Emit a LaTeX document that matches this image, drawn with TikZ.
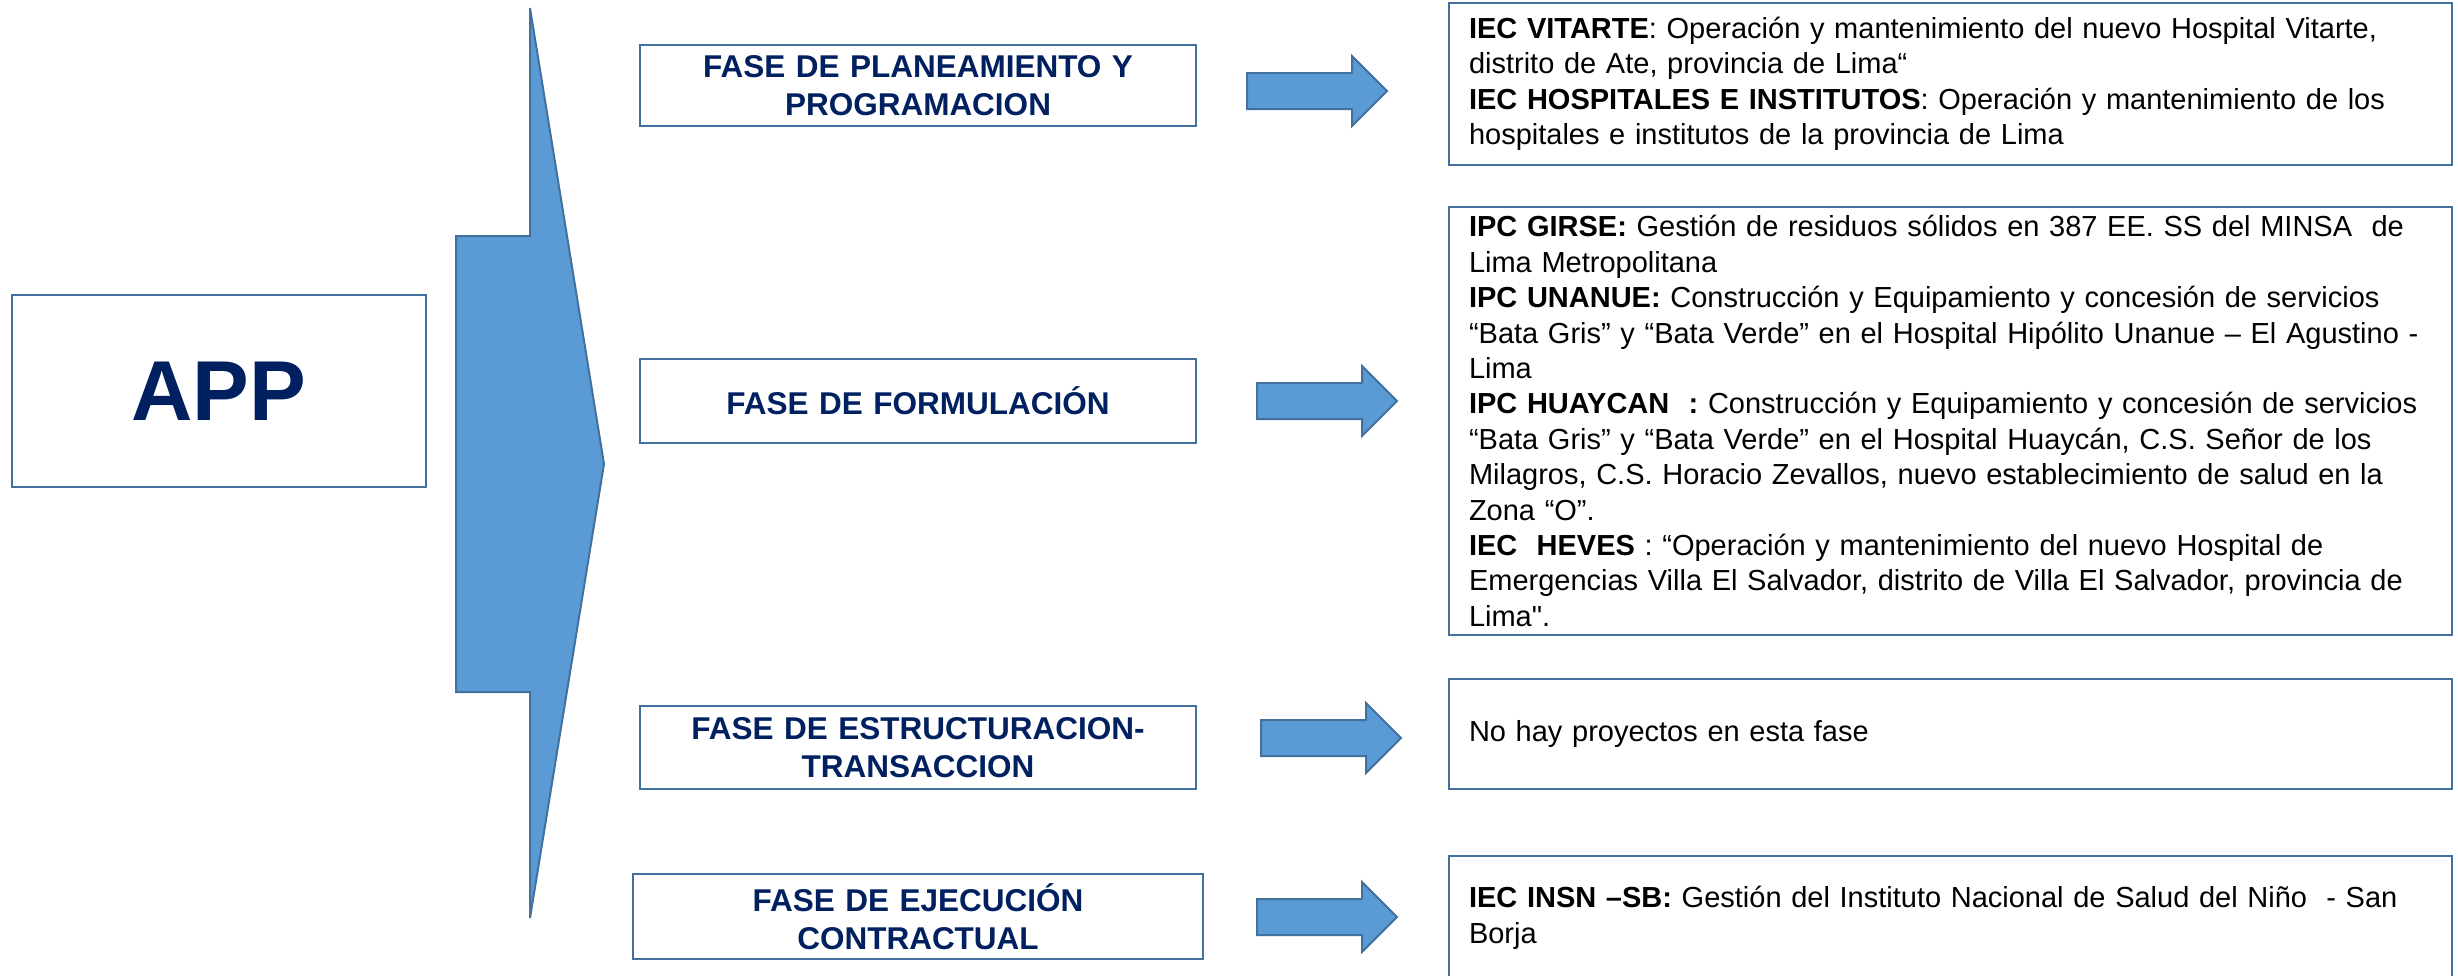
\documentclass[tikz,border=0pt]{standalone}
\usepackage{fontspec}
\setmainfont{Liberation Sans}[Ligatures=TeXOff]
\definecolor{appnavy}{HTML}{002060}
\definecolor{appblue}{HTML}{5B9BD5}
\definecolor{appline}{HTML}{41719C}
\begin{document}
\begin{tikzpicture}[x=1pt,y=-1pt]{
    \def\lw{2.5pt}
    \newcounter{nb}
    \tikzstyle{marco}=[draw=appline, line width=\lw, fill=white, inner ysep=0pt]
    \tikzstyle{fase}=[marco, text=appnavy, align=center, text width=516pt, minimum width=556pt, font=\fontsize{31.5}{38}\selectfont\bfseries]
    \tikzstyle{proyecto}=[marco, align=left, text width=963pt, inner xsep=20pt, font=\fontsize{29}{35.4}\selectfont]
    \tikzstyle{blk}=[draw=appline, fill=appblue, line width=2pt]

    \fill[white] (0,0) rectangle (2458,975);
    \useasboundingbox (0,0) rectangle (2458,975);

    \stepcounter{nb}\node[marco, minimum width=414pt, minimum height=192pt, text=appnavy, font=\fontsize{85}{90}\selectfont\bfseries] (\arabic{nb}) at (219,391) {APP};

    \stepcounter{nb}\node[fase, minimum height=81pt] (\arabic{nb}) at (918,85.5) {FASE DE PLANEAMIENTO Y\\PROGRAMACION};
    \stepcounter{nb}\node[fase, minimum height=84pt] (\arabic{nb}) at (918,401) {FASE DE FORMULACIÓN};
    \stepcounter{nb}\node[fase, minimum height=83pt] (\arabic{nb}) at (918,747.5) {FASE DE ESTRUCTURACION-\\TRANSACCION};
    \stepcounter{nb}\node[fase, minimum height=85pt, minimum width=570pt] (\arabic{nb}) at (918,916.5) {FASE DE EJECUCIÓN\\CONTRACTUAL};

    \stepcounter{nb}\node[proyecto, minimum height=162pt] (\arabic{nb}) at (1950.5,84) {\textbf{IEC VITARTE}: Operación y mantenimiento del nuevo Hospital Vitarte,\\distrito de Ate, provincia de Lima“\\\textbf{IEC HOSPITALES E INSTITUTOS}: Operación y mantenimiento de los\\hospitales e institutos de la provincia de Lima};
    \stepcounter{nb}\node[proyecto, minimum height=428pt] (\arabic{nb}) at (1950.5,421) {\textbf{IPC GIRSE:} Gestión de residuos sólidos en 387 EE. SS del MINSA\ \ de\\Lima Metropolitana\\\textbf{IPC UNANUE:} Construcción y Equipamiento y concesión de servicios\\“Bata Gris” y “Bata Verde” en el Hospital Hipólito Unanue – El Agustino -\\Lima\\\textbf{IPC HUAYCAN\ \ :} Construcción y Equipamiento y concesión de servicios\\“Bata Gris” y “Bata Verde” en el Hospital Huaycán, C.S. Señor de los\\Milagros, C.S. Horacio Zevallos, nuevo establecimiento de salud en la\\Zona “O”.\\\textbf{IEC\ \ HEVES} : “Operación y mantenimiento del nuevo Hospital de\\Emergencias Villa El Salvador, distrito de Villa El Salvador, provincia de\\Lima".};
    \stepcounter{nb}\node[proyecto, minimum height=110pt] (\arabic{nb}) at (1950.5,734) {No hay proyectos en esta fase};
    \stepcounter{nb}\node[proyecto, minimum height=124pt] (\arabic{nb}) at (1950.5,918) {\textbf{IEC INSN –SB:} Gestión del Instituto Nacional de Salud del Niño\ \ - San\\Borja};

    % chevron
    \draw[blk] (530,8) -- (604,464) -- (530,918) -- (530,692) -- (456,692) -- (456,236) -- (530,236) -- cycle;

    % flechas
    \draw[blk] (1387,91) -- ++(-35,-35) -- ++(0,17) -- ++(-105,0) -- ++(0,36) -- ++(105,0) -- ++(0,17) -- cycle;
    \draw[blk] (1397,401) -- ++(-35,-35) -- ++(0,17) -- ++(-105,0) -- ++(0,36) -- ++(105,0) -- ++(0,17) -- cycle;
    \draw[blk] (1401,738) -- ++(-35,-35) -- ++(0,17) -- ++(-105,0) -- ++(0,36) -- ++(105,0) -- ++(0,17) -- cycle;
    \draw[blk] (1397,917) -- ++(-35,-35) -- ++(0,17) -- ++(-105,0) -- ++(0,36) -- ++(105,0) -- ++(0,17) -- cycle;}
\end{tikzpicture}
\end{document}
